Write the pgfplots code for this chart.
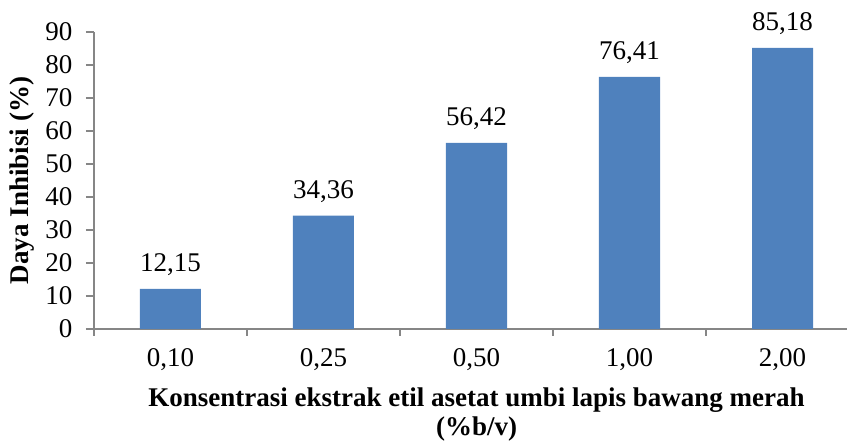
\documentclass[border=0pt]{standalone}
\usepackage{fontspec}
\setmainfont{Liberation Serif}
\usepackage{pgfplots}
\pgfplotsset{compat=1.18}
\definecolor{barblue}{RGB}{79,129,189}
\definecolor{axisgray}{RGB}{134,134,134}
\begin{document}
\begin{tikzpicture}
\begin{axis}[
  name=ax,
  scale only axis,
  width=753bp, height=297bp,
  xmin=-0.5, xmax=4.4216,
  ymin=0, ymax=90,
  axis x line=bottom, axis y line=left,
  axis line style={draw=axisgray, line width=1.6bp, -},
  every outer x axis line/.append style={-},
  every outer y axis line/.append style={-},
  tick align=outside,
  major tick length=8bp,
  ytick={0,10,...,90},
  ytick style={draw=axisgray, line width=1.6bp},
  yticklabel style={xshift=-10bp},
  xtick={0,1,2,3,4},
  xticklabels={{0,10},{0,25},{0,50},{1,00},{2,00}},
  xticklabel style={yshift=-8bp},
  xtick style={draw=none},
  extra x ticks={-0.5,0.5,1.5,2.5,3.5},
  extra x tick labels={},
  extra x tick style={xtick style={draw=axisgray, line width=1.6bp}, major tick length=7bp},
  font=\fontsize{27bp}{31bp}\selectfont,
  tick label style={font=\fontsize{27bp}{31bp}\selectfont},
  /pgf/number format/assume math mode=true,
  /pgf/number format/.cd, use comma, fixed, fixed zerofill, precision=2, 1000 sep={},
  /pgfplots/.cd,
  yticklabel={\pgfmathprintnumber[fixed, precision=0, fixed zerofill=false]{\tick}},
  nodes near coords,
  every node near coord/.append style={anchor=base, inner sep=0pt, yshift=17bp, font=\fontsize{27bp}{31bp}\selectfont},
  ylabel={\bfseries Daya Inhibisi (\%)},
  ylabel style={at={(axis description cs:0,0.5)}, anchor=south, inner sep=0pt, yshift=59bp, font=\fontsize{27bp}{31bp}\selectfont},
  xlabel={\bfseries Konsentrasi ekstrak etil asetat umbi lapis bawang merah\\\bfseries (\%b/v)},
  xlabel style={at={(axis description cs:0.508,0)}, anchor=north, inner sep=0pt, yshift=-59bp, align=center, font=\fontsize{27bp}{29bp}\selectfont},
  clip=false,
]
\addplot[ybar, bar width=61bp, fill=barblue, draw=none] coordinates {
  (0,12.15) (1,34.36) (2,56.42) (3,76.41) (4,85.18)
};
\end{axis}
\pgfresetboundingbox
\path[use as bounding box] ([xshift=-94bp, yshift=-112bp]ax.south west) rectangle ([yshift=32bp]ax.north east);
\end{tikzpicture}
\end{document}
